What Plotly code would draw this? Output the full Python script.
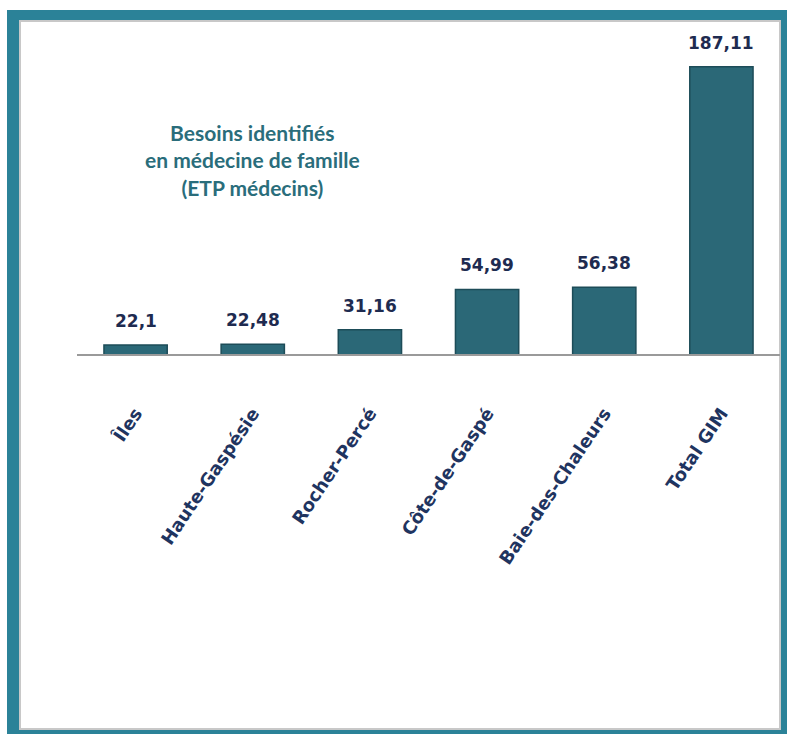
import plotly.graph_objects as go

categories = ["Îles", "Haute-Gaspésie", "Rocher-Percé", "Côte-de-Gaspé", "Baie-des-Chaleurs", "Total GIM"]
values = [22.1, 22.48, 31.16, 54.99, 56.38, 187.11]
value_labels = [str(v).replace(".", ",") for v in values]

W, H = 787, 734
L, R, T, B = 77, 7, 40, 380
pw, ph = W - L - R, H - T - B

def px(x):
    return (x - L) / pw

def py(y):
    return (H - B - y) / ph

fig = go.Figure()
fig.add_trace(go.Bar(
    x=categories, y=values,
    marker=dict(color="#2b6877", line=dict(color="#1d4c58", width=1.5)),
    width=0.54,
    hoverinfo="x+y",
))

for c, v, t in zip(categories, values, value_labels):
    fig.add_annotation(x=c, y=v, text=t, showarrow=False, yanchor="bottom",
                       yshift=12, font=dict(family="DejaVu Sans", size=17, color="#1e2b50", weight="bold"),
                       xref="x", yref="y")

fig.add_annotation(x=px(252), y=py(160), xref="paper", yref="paper",
                   text="Besoins identifiés<br>en médecine de famille<br>(ETP médecins)",
                   showarrow=False, align="center", xanchor="center", yanchor="middle",
                   font=dict(family="Lato", size=21, color="#2a6d7b", weight="bold"))

shapes = [
    dict(type="rect", xref="paper", yref="paper", layer="below",
         x0=px(7), x1=px(790), y0=py(10), y1=py(737),
         fillcolor="#2b8298", line=dict(width=0)),
    dict(type="rect", xref="paper", yref="paper", layer="below",
         x0=px(20), x1=px(780), y0=py(21), y1=py(729),
         fillcolor="#ffffff", line=dict(color="#c8c8c8", width=2)),
]

fig.update_layout(
    width=W, height=H,
    margin=dict(l=L, r=R, t=T, b=B),
    paper_bgcolor="white", plot_bgcolor="rgba(0,0,0,0)",
    showlegend=False, shapes=shapes, bargap=0.46,
    xaxis=dict(showline=True, linecolor="#9a9a9a", linewidth=1.5, showgrid=False,
               ticks="", tickangle=-56, ticklabelstandoff=40,
               tickfont=dict(family="DejaVu Sans", size=18, color="#1f3460", weight="bold")),
    yaxis=dict(visible=False, range=[16.7, 16.7 + ph / 1.685]),
)

fig.write_html("out.html", config={"displayModeBar": False},
               post_script="document.body.style.margin='0';document.body.style.padding='0';document.body.style.overflow='hidden';")
